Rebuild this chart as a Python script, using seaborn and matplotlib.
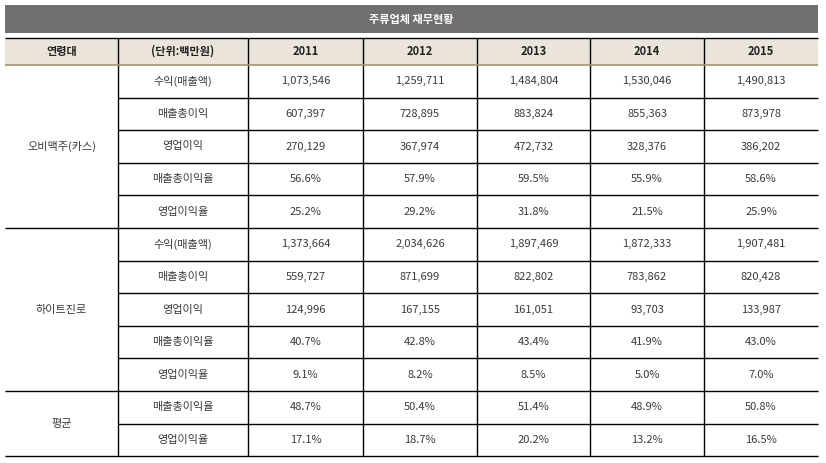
import matplotlib.pyplot as plt
import seaborn as sns
import pandas as pd

# ====================================
# 1. Table data
# ====================================
title = "주류업체 재무현황"
header = ["연령대", "(단위:백만원)", "2011", "2012", "2013", "2014", "2015"]
years = ["2011", "2012", "2013", "2014", "2015"]

groups = ["오비맥주(카스)", "하이트진로", "평균"]
items_company = ["수익(매출액)", "매출총이익", "영업이익", "매출총이익율", "영업이익율"]
items_avg = ["매출총이익율", "영업이익율"]

ob_values = [
    ["1,073,546", "1,259,711", "1,484,804", "1,530,046", "1,490,813"],
    ["607,397", "728,895", "883,824", "855,363", "873,978"],
    ["270,129", "367,974", "472,732", "328,376", "386,202"],
    ["56.6%", "57.9%", "59.5%", "55.9%", "58.6%"],
    ["25.2%", "29.2%", "31.8%", "21.5%", "25.9%"],
]
hite_values = [
    ["1,373,664", "2,034,626", "1,897,469", "1,872,333", "1,907,481"],
    ["559,727", "871,699", "822,802", "783,862", "820,428"],
    ["124,996", "167,155", "161,051", "93,703", "133,987"],
    ["40.7%", "42.8%", "43.4%", "41.9%", "43.0%"],
    ["9.1%", "8.2%", "8.5%", "5.0%", "7.0%"],
]
avg_values = [
    ["48.7%", "50.4%", "51.4%", "48.9%", "50.8%"],
    ["17.1%", "18.7%", "20.2%", "13.2%", "16.5%"],
]

rows = []
for grp, items, vals in [(groups[0], items_company, ob_values),
                         (groups[1], items_company, hite_values),
                         (groups[2], items_avg, avg_values)]:
    for item, v in zip(items, vals):
        rows.append([grp, item] + v)
df = pd.DataFrame(rows, columns=["group", "item"] + years)

# ====================================
# 2. Layout
# ====================================
sns.set_theme(style="white")
plt.rcParams['font.family'] = ['Noto Sans CJK KR', 'DejaVu Sans']

col_edges = [5, 118, 248, 363, 477, 590, 704, 818]
title_top, title_bot = 5, 33
head_top, head_bot = 38, 65
row_h = 32.6
txt_color = "#3a3a3a"
fs = 8
body_w = "light"

fig = plt.figure(figsize=(8.26, 4.63), dpi=100)
ax = fig.add_axes([0, 0, 1, 1])
ax.set_xlim(0, 826)
ax.set_ylim(463, 0)
ax.axis("off")

# title bar
ax.add_patch(plt.Rectangle((col_edges[0], title_top), col_edges[-1] - col_edges[0],
                           title_bot - title_top, color="#72706f", lw=0))
ax.text((col_edges[0] + col_edges[-1]) / 2, (title_top + title_bot) / 2, title,
        color="white", fontsize=fs, fontweight="bold", ha="center", va="center")

# header
ax.add_patch(plt.Rectangle((col_edges[0], head_top), col_edges[-1] - col_edges[0],
                           head_bot - head_top, color="#ebe4da", lw=0))
for i, h in enumerate(header):
    cx = (col_edges[i] + col_edges[i + 1]) / 2
    ax.text(cx, (head_top + head_bot) / 2, h, color="#222222", fontsize=fs,
            fontweight="bold", ha="center", va="center")
ax.hlines(head_top, col_edges[0], col_edges[-1], color="black", lw=1.0)

# body
n = len(df)
body_bot = head_bot + n * row_h
for i, r in df.iterrows():
    y0 = head_bot + i * row_h
    yc = y0 + row_h / 2
    ax.text((col_edges[1] + col_edges[2]) / 2, yc, r["item"], color=txt_color,
            fontsize=fs, fontweight=body_w, ha="center", va="center")
    for j, yr in enumerate(years):
        cx = (col_edges[j + 2] + col_edges[j + 3]) / 2
        ax.text(cx, yc, r[yr], color=txt_color, fontsize=fs, fontweight=body_w,
                ha="center", va="center")
    if i > 0:
        if r["group"] != df.loc[i - 1, "group"]:
            ax.hlines(y0, col_edges[0], col_edges[-1], color="black", lw=1.0)
        else:
            ax.hlines(y0, col_edges[1], col_edges[-1], color="black", lw=1.0)

# group labels
for grp in groups:
    idx = df.index[df["group"] == grp]
    yc = head_bot + (idx.min() + idx.max() + 1) / 2 * row_h
    ax.text((col_edges[0] + col_edges[1]) / 2, yc, grp, color=txt_color,
            fontsize=fs, fontweight=body_w, ha="center", va="center")

ax.hlines(body_bot, col_edges[0], col_edges[-1], color="black", lw=1.0)
ax.vlines(col_edges[1:-1], head_top, body_bot, color="black", lw=1.0)
ax.hlines(head_bot, col_edges[0], col_edges[-1], color="#a98f6f", lw=1.2)

fig.savefig("out.png", dpi=100)
